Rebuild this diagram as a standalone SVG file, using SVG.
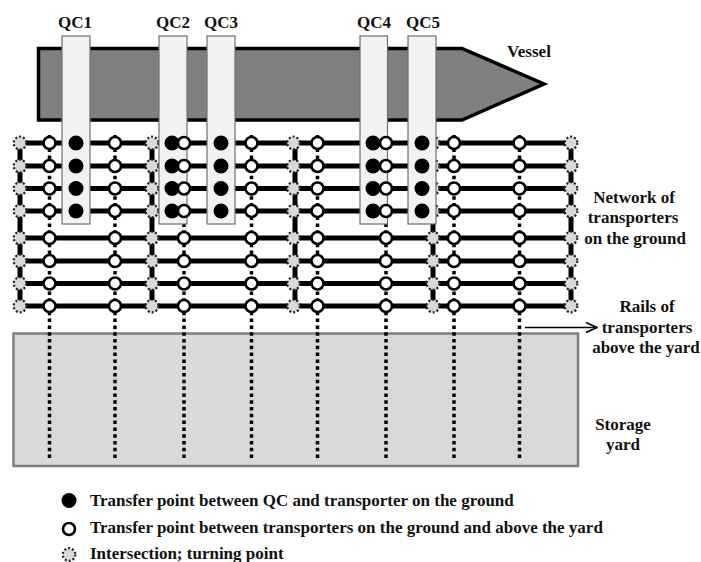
<svg xmlns="http://www.w3.org/2000/svg" width="701" height="562" viewBox="0 0 701 562">
<style>
text{font-family:"Liberation Serif","Times New Roman",serif;font-weight:bold;font-size:17px;fill:#111}
.m{text-anchor:middle}
.h{stroke:#000;stroke-width:5;fill:none}
.v{stroke:#000;stroke-width:5;fill:none}
.d{stroke:#000;stroke-width:3.5;stroke-dasharray:3.5 3.3;fill:none}
.qc{fill:#f2f2f2;stroke:#6e6e6e;stroke-width:1.2}
.b{fill:#000}
.w{fill:#fff;stroke:#000;stroke-width:2.6}
.i{fill:#d9d9d9;stroke:#222;stroke-width:2.2;stroke-dasharray:2 2}
</style>
<defs>
<circle id="bp" r="7.5" class="b"/>
<circle id="wp" r="6" class="w"/>
<circle id="ip" r="6.3" class="i"/>
<g id="col4b"><use href="#bp" y="143"/><use href="#bp" y="166"/><use href="#bp" y="188.5"/><use href="#bp" y="211"/></g>
<g id="col4w"><use href="#wp" y="143"/><use href="#wp" y="166"/><use href="#wp" y="188.5"/><use href="#wp" y="211"/></g>
<g id="colw"><use href="#col4w"/><use href="#wp" y="238"/><use href="#wp" y="261"/><use href="#wp" y="283.5"/><use href="#wp" y="306"/></g>
<g id="coli"><use href="#ip" y="143"/><use href="#ip" y="166"/><use href="#ip" y="188.5"/><use href="#ip" y="211"/><use href="#ip" y="238"/><use href="#ip" y="261"/><use href="#ip" y="283.5"/><use href="#ip" y="306"/></g>
<marker id="arr" viewBox="0 0 13 12" refX="12" refY="6" markerWidth="13" markerHeight="12" markerUnits="userSpaceOnUse" orient="auto"><path d="M1 1L12 6L1 11" fill="none" stroke="#000" stroke-width="1.6"/></marker>
</defs>
<g id="vessel"><path d="M38.500 48.500H462L544 84L462 120H38.500Z" fill="#808080" stroke="#000" stroke-width="3.500"/><text class="m" x="529" y="57">Vessel</text></g>
<g id="yard"><rect x="13.500" y="333.500" width="564.500" height="132.500" fill="#d9d9d9" stroke="#7f7f7f" stroke-width="2.500"/><text class="m" x="623" y="430">Storage</text><text class="m" x="623" y="450">yard</text></g>
<g id="connectors">
<path class="d" d="M49.500 135V459M115 135V459M184 135V459M251.500 135V459M317.500 135V459M386 135V459M454 135V459M519.500 135V459"/>
<path class="h" d="M20 143H571M20 166H571M20 188.500H571M20 211H571M20 238H571M20 261H571M20 283.500H571M20 306H571"/>
<path class="v" d="M20 143V306M152 143V306M295 143V306M433 143V306M571 143V306"/>
<path d="M525 327.500H597" stroke="#000" stroke-width="1.6" fill="none" marker-end="url(#arr)"/>
</g>
<g id="intersections">
<use href="#coli" x="20"/><use href="#coli" x="152"/><use href="#coli" x="293.500"/><use href="#coli" x="433"/><use href="#coli" x="571"/>
</g>
<g id="qc1"><rect class="qc" x="62" y="36" width="28" height="188"/><text class="m" x="75" y="28">QC1</text><use href="#col4b" x="76"/></g>
<g id="qc2"><rect class="qc" x="159" y="36" width="28" height="188"/><text class="m" x="173" y="28">QC2</text><use href="#col4b" x="172"/></g>
<g id="qc3"><rect class="qc" x="207" y="36" width="28" height="188"/><text class="m" x="221" y="28">QC3</text><use href="#col4b" x="221"/></g>
<g id="qc4"><rect class="qc" x="360" y="36" width="27.500" height="188"/><text class="m" x="374" y="28">QC4</text><use href="#col4b" x="373"/></g>
<g id="qc5"><rect class="qc" x="408" y="36" width="28" height="188"/><text class="m" x="423" y="28">QC5</text><use href="#col4b" x="422"/></g>
<g id="transfer-points">
<use href="#colw" x="49.500"/><use href="#colw" x="115"/><use href="#colw" x="184"/><use href="#colw" x="251.500"/><use href="#colw" x="317.500"/><use href="#colw" x="386"/><use href="#colw" x="454"/><use href="#colw" x="519.500"/>
</g>
<g id="labels">
<text class="m" x="634" y="203">Network of</text><text class="m" x="633" y="223">transporters</text><text class="m" x="635" y="244">on the ground</text>
<text class="m" x="647" y="312">Rails of</text><text class="m" x="647" y="333">transporters</text><text class="m" x="646" y="353">above the yard</text>
</g>
<g id="legend">
<circle class="b" cx="69" cy="500.500" r="7.500"/><text x="90" y="506">Transfer point between QC and transporter on the ground</text>
<circle class="w" cx="69" cy="529" r="6"/><text x="90" y="533">Transfer point between transporters on the ground and above the yard</text>
<circle class="i" cx="69" cy="554.500" r="6.300"/><text x="90" y="559">Intersection; turning point</text>
</g>
</svg>
